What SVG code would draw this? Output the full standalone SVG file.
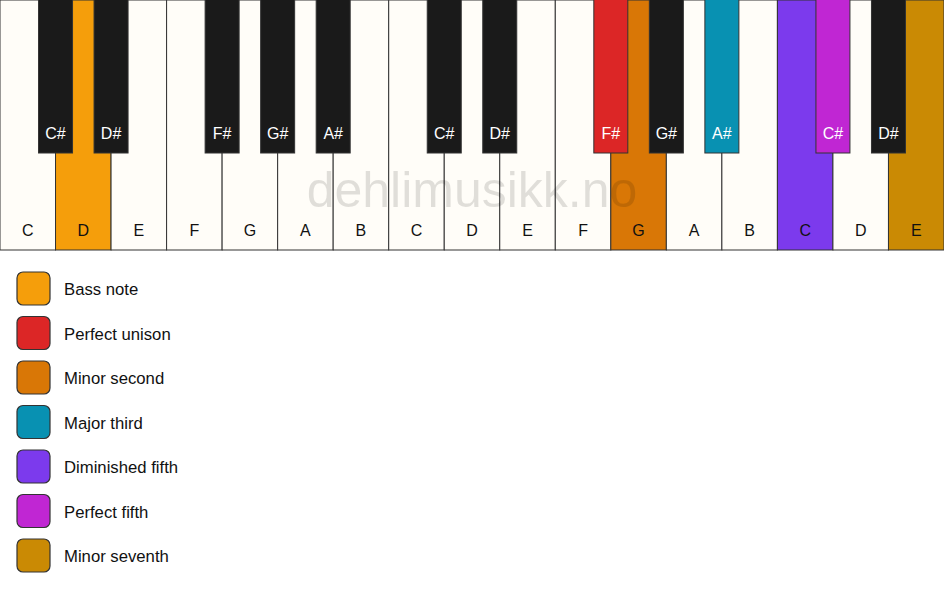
<svg xmlns="http://www.w3.org/2000/svg" width="944" height="594" viewBox="0 0 944 594">
<style>
.w{fill:#fffdf8;stroke:#333;stroke-width:1}
.b{fill:#1a1a1a;stroke:#333;stroke-width:1}
.wl{font-family:"Liberation Sans",Arial,sans-serif;font-size:16px;fill:#111;text-anchor:middle}
.bl{font-family:"Liberation Sans",Arial,sans-serif;font-size:16px;fill:#fff;text-anchor:middle}
.sw{stroke:#333;stroke-width:1.2}
.lt{font-family:"Liberation Sans",Arial,sans-serif;font-size:16.7px;fill:#111}
.wm{font-family:"Liberation Sans",Arial,sans-serif;font-size:50px;fill:#000;fill-opacity:0.12;text-anchor:middle}
</style>
<rect width="944" height="594" fill="#ffffff"/>
<g id="white-keys">
<g id="key-C1"><rect class="w" x="0" y="0" width="55.53" height="250"/><text class="wl" x="27.76" y="236">C</text></g>
<g id="key-D1"><rect class="w" x="55.53" y="0" width="55.53" height="250" style="fill:#f59e0b"/><text class="wl" x="83.29" y="236">D</text></g>
<g id="key-E1"><rect class="w" x="111.06" y="0" width="55.53" height="250"/><text class="wl" x="138.82" y="236">E</text></g>
<g id="key-F1"><rect class="w" x="166.59" y="0" width="55.53" height="250"/><text class="wl" x="194.35" y="236">F</text></g>
<g id="key-G1"><rect class="w" x="222.12" y="0" width="55.53" height="250"/><text class="wl" x="249.88" y="236">G</text></g>
<g id="key-A1"><rect class="w" x="277.65" y="0" width="55.53" height="250"/><text class="wl" x="305.41" y="236">A</text></g>
<g id="key-B1"><rect class="w" x="333.18" y="0" width="55.53" height="250"/><text class="wl" x="360.94" y="236">B</text></g>
<g id="key-C2"><rect class="w" x="388.71" y="0" width="55.53" height="250"/><text class="wl" x="416.47" y="236">C</text></g>
<g id="key-D2"><rect class="w" x="444.24" y="0" width="55.53" height="250"/><text class="wl" x="472" y="236">D</text></g>
<g id="key-E2"><rect class="w" x="499.76" y="0" width="55.53" height="250"/><text class="wl" x="527.53" y="236">E</text></g>
<g id="key-F2"><rect class="w" x="555.29" y="0" width="55.53" height="250"/><text class="wl" x="583.06" y="236">F</text></g>
<g id="key-G2"><rect class="w" x="610.82" y="0" width="55.53" height="250" style="fill:#d97706"/><text class="wl" x="638.59" y="236">G</text></g>
<g id="key-A2"><rect class="w" x="666.35" y="0" width="55.53" height="250"/><text class="wl" x="694.12" y="236">A</text></g>
<g id="key-B2"><rect class="w" x="721.88" y="0" width="55.53" height="250"/><text class="wl" x="749.65" y="236">B</text></g>
<g id="key-C3"><rect class="w" x="777.41" y="0" width="55.53" height="250" style="fill:#7c3aed"/><text class="wl" x="805.18" y="236">C</text></g>
<g id="key-D3"><rect class="w" x="832.94" y="0" width="55.53" height="250"/><text class="wl" x="860.71" y="236">D</text></g>
<g id="key-E3"><rect class="w" x="888.47" y="0" width="55.53" height="250" style="fill:#ca8a04"/><text class="wl" x="916.24" y="236">E</text></g>
</g>
<g id="black-keys">
<g id="key-Cs1"><rect class="b" x="38.53" y="-2" width="34" height="155"/><text class="bl" x="55.53" y="139">C#</text></g>
<g id="key-Ds1"><rect class="b" x="94.06" y="-2" width="34" height="155"/><text class="bl" x="111.06" y="139">D#</text></g>
<g id="key-Fs1"><rect class="b" x="205.12" y="-2" width="34" height="155"/><text class="bl" x="222.12" y="139">F#</text></g>
<g id="key-Gs1"><rect class="b" x="260.65" y="-2" width="34" height="155"/><text class="bl" x="277.65" y="139">G#</text></g>
<g id="key-As1"><rect class="b" x="316.18" y="-2" width="34" height="155"/><text class="bl" x="333.18" y="139">A#</text></g>
<g id="key-Cs2"><rect class="b" x="427.24" y="-2" width="34" height="155"/><text class="bl" x="444.24" y="139">C#</text></g>
<g id="key-Ds2"><rect class="b" x="482.76" y="-2" width="34" height="155"/><text class="bl" x="499.76" y="139">D#</text></g>
<g id="key-Fs2"><rect class="b" x="593.82" y="-2" width="34" height="155" style="fill:#dc2626"/><text class="bl" x="610.82" y="139">F#</text></g>
<g id="key-Gs2"><rect class="b" x="649.35" y="-2" width="34" height="155"/><text class="bl" x="666.35" y="139">G#</text></g>
<g id="key-As2"><rect class="b" x="704.88" y="-2" width="34" height="155" style="fill:#0891b2"/><text class="bl" x="721.88" y="139">A#</text></g>
<g id="key-Cs3"><rect class="b" x="815.94" y="-2" width="34" height="155" style="fill:#c026d3"/><text class="bl" x="832.94" y="139">C#</text></g>
<g id="key-Ds3"><rect class="b" x="871.47" y="-2" width="34" height="155"/><text class="bl" x="888.47" y="139">D#</text></g>
</g>
<text class="wm" x="472" y="207">dehlimusikk.no</text>
<g id="legend">
<g id="legend-bass"><rect class="sw" x="17" y="272" width="33" height="33" rx="6" fill="#f59e0b"/><text class="lt" x="64" y="295">Bass note</text></g>
<g id="legend-unison"><rect class="sw" x="17" y="316.5" width="33" height="33" rx="6" fill="#dc2626"/><text class="lt" x="64" y="339.5">Perfect unison</text></g>
<g id="legend-m2"><rect class="sw" x="17" y="361" width="33" height="33" rx="6" fill="#d97706"/><text class="lt" x="64" y="384">Minor second</text></g>
<g id="legend-M3"><rect class="sw" x="17" y="405.5" width="33" height="33" rx="6" fill="#0891b2"/><text class="lt" x="64" y="428.5">Major third</text></g>
<g id="legend-d5"><rect class="sw" x="17" y="450" width="33" height="33" rx="6" fill="#7c3aed"/><text class="lt" x="64" y="473">Diminished fifth</text></g>
<g id="legend-P5"><rect class="sw" x="17" y="494.5" width="33" height="33" rx="6" fill="#c026d3"/><text class="lt" x="64" y="517.5">Perfect fifth</text></g>
<g id="legend-m7"><rect class="sw" x="17" y="539" width="33" height="33" rx="6" fill="#ca8a04"/><text class="lt" x="64" y="562">Minor seventh</text></g>
</g>
</svg>
